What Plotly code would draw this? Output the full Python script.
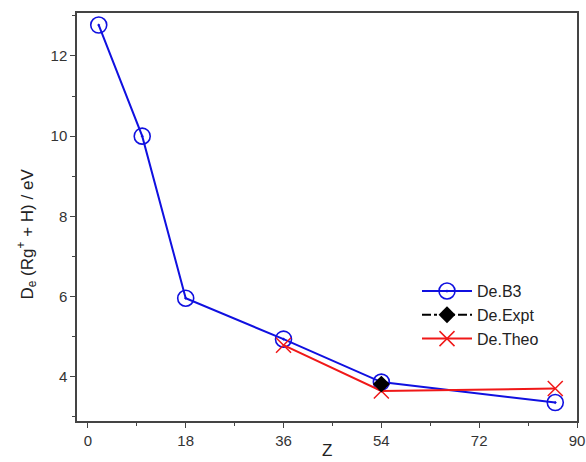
import plotly.graph_objects as go

# Dissociation energies of Rg+ + H versus atomic number Z
z_b3 = [2, 10, 18, 36, 54, 86]
de_b3 = [12.77, 10.0, 5.96, 4.94, 3.87, 3.36]

z_expt = [54]
de_expt = [3.82]

z_theo = [36, 54, 86]
de_theo = [4.79, 3.65, 3.71]

x_ticks = [0, 18, 36, 54, 72, 90]
y_ticks = [4, 6, 8, 10, 12]

FONT = "Arial, Liberation Sans, sans-serif"

fig = go.Figure()
fig.add_trace(go.Scatter(
    x=z_b3, y=de_b3, name="De.B3", mode="lines+markers",
    line=dict(color="#1010e0", width=2),
    marker=dict(symbol="circle-open-dot", size=16, color="#1010e0",
                line=dict(width=1.6, color="#1010e0")),
    legendrank=1,
))
fig.add_trace(go.Scatter(
    x=z_theo, y=de_theo, name="De.Theo", mode="lines+markers",
    line=dict(color="#f01818", width=2),
    marker=dict(symbol="x-thin-open", size=15, color="#f01818",
                line=dict(width=1.5, color="#f01818")),
    legendrank=3,
))
fig.add_trace(go.Scatter(
    x=z_expt, y=de_expt, name="De.Expt", mode="lines+markers",
    line=dict(color="black", width=2, dash="dashdot"),
    marker=dict(symbol="diamond", size=13, color="black"),
    legendrank=2,
))

axis_common = dict(
    showline=True, linecolor="#444", linewidth=1.5, mirror=True,
    ticks="outside", ticklen=5, tickwidth=1.3, tickcolor="#444",
    showgrid=False, zeroline=False, automargin=False,
    tickfont=dict(family=FONT, size=15, color="#333"),
)

fig.update_xaxes(
    range=[-2.0, 90.0], tickvals=x_ticks,
    minor=dict(ticks="outside", ticklen=3, tickcolor="#444", dtick=9, tick0=0),
    **axis_common,
)
fig.update_yaxes(
    range=[2.9, 13.07], tickvals=y_ticks,
    minor=dict(ticks="outside", ticklen=3, tickcolor="#444", dtick=1, tick0=0),
    **axis_common,
)

# axis titles
fig.add_annotation(
    text="Z", xref="paper", yref="paper", x=0.5, y=-0.1,
    xanchor="center", yanchor="bottom", showarrow=False,
    font=dict(family=FONT, size=17, color="#222"),
)
fig.add_annotation(
    text="D<sub>e</sub> (Rg<sup>+</sup> + H) / eV", xref="paper", yref="paper",
    x=-0.1, y=0.457, xanchor="center", yanchor="middle", textangle=-90,
    showarrow=False, font=dict(family=FONT, size=17, color="#222"),
)

fig.update_layout(
    width=586, height=462,
    margin=dict(l=77, r=9, t=13, b=41),
    plot_bgcolor="white", paper_bgcolor="white",
    showlegend=True,
    legend=dict(
        x=0.68, y=0.36, xanchor="left", yanchor="top",
        traceorder="normal", itemwidth=50,
        font=dict(family=FONT, size=16, color="#222"),
        bgcolor="rgba(0,0,0,0)", tracegroupgap=0,
    ),
)

fig.write_html("out.html")
